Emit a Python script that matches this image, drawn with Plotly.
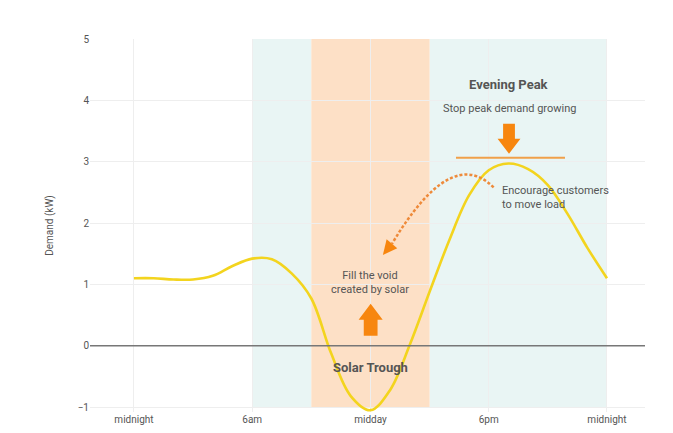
import plotly.graph_objects as go

# Data
hours = list(range(0, 25))
demand = [1.10, 1.10, 1.08, 1.08, 1.14, 1.30, 1.42, 1.41, 1.18, 0.77, -0.12, -0.82, -1.05,
          -0.72, 0.02, 0.88, 1.72, 2.45, 2.86, 2.97, 2.88, 2.62, 2.15, 1.60, 1.10]
tick_vals = [0, 6, 12, 18, 24]
tick_text = ["midnight", "6am", "midday", "6pm", "midnight"]
y_ticks = [-1, 0, 1, 2, 3, 4, 5]
teal_bands = [(6, 9), (15, 24)]
orange_bands = [(9, 15)]

FONT = "Roboto, Arial, sans-serif"
TXT = "#555555"
ORANGE = "#f7860f"
DASH_ORANGE = "#ee8a3a"

fig = go.Figure()
fig.add_trace(go.Scatter(x=hours, y=demand, mode="lines",
                         line=dict(color="#f3d41e", width=2.6, shape="spline", smoothing=1.0),
                         hoverinfo="skip", showlegend=False))

shapes = []
for a, b in teal_bands:
    shapes.append(dict(type="rect", xref="x", yref="y", x0=a, x1=b, y0=-1, y1=5,
                       fillcolor="#e9f5f4", line=dict(width=0), layer="below"))
for a, b in orange_bands:
    shapes.append(dict(type="rect", xref="x", yref="y", x0=a, x1=b, y0=-1, y1=5,
                       fillcolor="#fde0c6", line=dict(width=0), layer="below"))
# zero line
shapes.append(dict(type="line", xref="paper", yref="y", x0=0, x1=1, y0=0, y1=0,
                   line=dict(color="#777777", width=1.5)))
# peak cap line
shapes.append(dict(type="line", xref="x", yref="y", x0=16.34, x1=21.87, y0=3.065, y1=3.065,
                   line=dict(color="#f0a04a", width=2)))
# down block arrow
shapes.append(dict(type="path", xref="x", yref="y",
                   path="M 18.73,3.62 L 19.33,3.62 L 19.33,3.375 L 19.61,3.375 L 19.03,3.13 L 18.45,3.375 L 18.73,3.375 Z",
                   fillcolor=ORANGE, line=dict(width=0)))
# up block arrow
shapes.append(dict(type="path", xref="x", yref="y",
                   path="M 11.66,0.163 L 12.36,0.163 L 12.36,0.424 L 12.62,0.424 L 12.01,0.685 L 11.40,0.424 L 11.66,0.424 Z",
                   fillcolor=ORANGE, line=dict(width=0)))
# dashed curved arrow
shapes.append(dict(type="path", xref="x", yref="y",
                   path="M 18.25,2.58 Q 16.1,3.28 13.09,1.66",
                   line=dict(color=DASH_ORANGE, width=2.5, dash="3px,2px")))
shapes.append(dict(type="path", xref="x", yref="y",
                   path="M 12.63,1.48 L 13.36,1.59 L 12.82,1.735 Z",
                   fillcolor=ORANGE, line=dict(width=0)))

annotations = [
    dict(x=19.05, y=4.26, text="<b>Evening Peak</b>", font=dict(size=13, color=TXT, family=FONT)),
    dict(x=19.05, y=3.87, text="Stop peak demand growing", font=dict(size=11, color=TXT, family=FONT)),
    dict(x=18.55, y=2.42, text="Encourage customers<br>to move load", xanchor="left", align="left",
         font=dict(size=11, color=TXT, family=FONT)),
    dict(x=12.0, y=1.03, text="Fill the void<br>created by solar", font=dict(size=11, color=TXT, family=FONT)),
    dict(x=12.0, y=-0.35, text="<b>Solar Trough</b>", font=dict(size=13, color=TXT, family=FONT)),
]
for a in annotations:
    a.update(xref="x", yref="y", showarrow=False)

fig.update_layout(
    width=673, height=433,
    margin=dict(l=90, r=28, t=39, b=21),
    paper_bgcolor="white", plot_bgcolor="white",
    shapes=shapes, annotations=annotations,
    font=dict(family=FONT, color=TXT, size=10),
    xaxis=dict(range=[-2.23, 25.93], tickvals=tick_vals, ticktext=tick_text, automargin=False,
               showgrid=True, gridcolor="#eeeeee", zeroline=False, showline=False,
               tickfont=dict(size=10, color=TXT), ticks=""),
    yaxis=dict(range=[-1.08, 5], tickvals=y_ticks, showgrid=True, gridcolor="#eeeeee",
               zeroline=False, showline=False, tickfont=dict(size=10, color=TXT), ticks="",
               automargin=False,
               title=dict(text="Demand (kW)", font=dict(size=10, color=TXT), standoff=22)),
)

fig.write_html("out.html")
